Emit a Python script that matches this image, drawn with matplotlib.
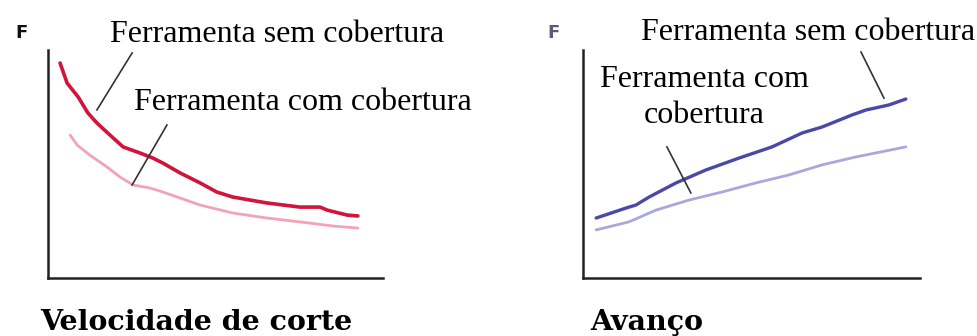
import matplotlib.pyplot as plt

# curves, axes scaled 0..100
vc_x_sem = [3.6, 5.7, 9.0, 11.9, 14.6, 18.5, 22.4, 27.5, 31.3, 34.3, 39.4, 45.4,
            50.4, 55.2, 65.4, 75.2, 81.2, 83.3, 89.3, 92.5]
vc_y_sem = [94.3, 85.5, 79.4, 72.4, 68.0, 62.7, 57.5, 54.8, 52.6, 50.4, 46.1, 41.7,
            37.7, 35.5, 32.9, 31.1, 31.1, 29.8, 27.6, 27.2]
vc_x_com = [6.6, 8.7, 12.5, 17.6, 21.5, 25.4, 30.4, 34.3, 39.4, 45.4, 55.2, 65.4,
            75.2, 85.1, 92.5]
vc_y_com = [62.7, 58.3, 53.9, 48.7, 44.3, 40.8, 39.5, 37.7, 35.1, 32.0, 28.5, 26.3,
            24.6, 22.8, 21.9]

av_x_sem = [3.9, 12.8, 15.7, 19.6, 27.6, 36.5, 46.3, 56.1, 65.0, 70.9, 79.8, 84.0,
            90.8, 95.8]
av_y_sem = [26.3, 30.7, 32.0, 35.5, 41.7, 47.4, 52.6, 57.5, 63.6, 66.2, 71.5, 73.7,
            75.9, 78.5]
av_x_com = [3.9, 13.6, 21.7, 31.5, 41.2, 51.3, 61.1, 70.9, 81.0, 95.8]
av_y_com = [21.1, 24.6, 29.8, 34.2, 37.7, 41.7, 45.2, 49.6, 53.1, 57.5]

lbl_sem = 'Ferramenta sem cobertura'
lbl_com = 'Ferramenta com cobertura'
lbl_com2 = 'Ferramenta com\ncobertura'
titles = ['Velocidade de corte', 'Avanço']

W, H = 978, 336
fig = plt.figure(figsize=(W / 100, H / 100), dpi=100)

def make_ax(x0, x1, y_top, y_bot):
    ax = fig.add_axes([x0 / W, 1 - y_bot / H, (x1 - x0) / W, (y_bot - y_top) / H])
    ax.set_xlim(0, 100)
    ax.set_ylim(0, 100)
    for s in ['top', 'right']:
        ax.spines[s].set_visible(False)
    for s in ['left', 'bottom']:
        ax.spines[s].set_linewidth(1.8)
        ax.spines[s].set_color('#222222')
    ax.set_xticks([])
    ax.set_yticks([])
    return ax

serif = 'Liberation Serif'
fs = 23

# left: cutting speed
ax1 = make_ax(48, 383, 50, 278)
ax1.plot(vc_x_sem, vc_y_sem, color='#d0143c', lw=2.6, solid_capstyle='round')
ax1.plot(vc_x_com, vc_y_com, color='#f2a4b6', lw=2.0, solid_capstyle='round')
ax1.plot([25.1, 14.6], [98.7, 73.7], color='#333333', lw=1.2, clip_on=False)
ax1.plot([35.5, 25.1], [67.1, 40.8], color='#333333', lw=1.2, clip_on=False)
ax1.text(18.5, 106.6, lbl_sem, family=serif, fontsize=fs, va='center', clip_on=False)
ax1.text(25.7, 76.8, lbl_com, family=serif, fontsize=fs, va='center', clip_on=False)

# right: feed
ax2 = make_ax(583, 920, 50, 278)
ax2.plot(av_x_sem, av_y_sem, color='#4a48a8', lw=2.4, solid_capstyle='round')
ax2.plot(av_x_com, av_y_com, color='#a8a8dc', lw=2.0, solid_capstyle='round')
ax2.plot([82.5, 89.3], [99.1, 78.9], color='#333333', lw=1.2, clip_on=False)
ax2.plot([24.9, 32.0], [57.5, 37.3], color='#333333', lw=1.2, clip_on=False)
ax2.text(17.2, 107.5, lbl_sem, family=serif, fontsize=fs, va='center', clip_on=False)
ax2.text(35.9, 79.2, lbl_com2, family=serif, fontsize=fs, va='center', ha='center',
         linespacing=1.35, clip_on=False)

# axis letters and titles
fig.text(15 / W, 1 - 33 / H, 'F', fontsize=13, fontweight='bold', va='center',
         color='#111111')
fig.text(547 / W, 1 - 33 / H, 'F', fontsize=13, fontweight='bold', va='center',
         color='#5a5a7a')
fig.text(40 / W, 1 - 323 / H, titles[0], family='DejaVu Serif', fontsize=20.5,
         fontweight='bold', va='center')
fig.text(590 / W, 1 - 322 / H, titles[1], family='DejaVu Serif', fontsize=20.5,
         fontweight='bold', va='center')

fig.savefig('out.png', dpi=100)
